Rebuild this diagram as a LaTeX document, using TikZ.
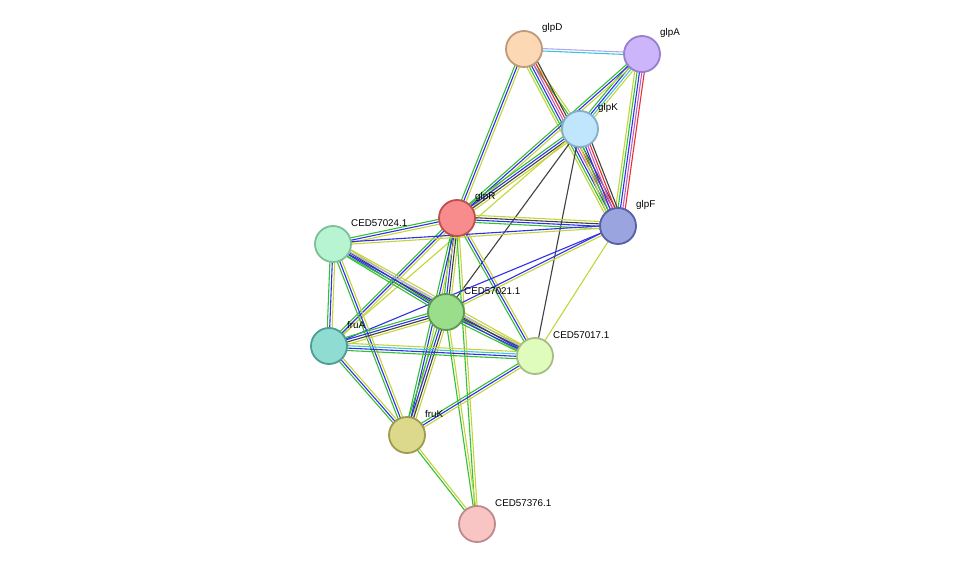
\documentclass[tikz,border=0pt]{standalone}
\usepackage{fontspec}
\setmainfont{Liberation Sans}
\usetikzlibrary{calc}
\definecolor{G}{HTML}{33C033}
\definecolor{B}{HTML}{3030E8}
\definecolor{Y}{HTML}{C4D43A}
\definecolor{K}{HTML}{404040}
\definecolor{R}{HTML}{E83030}
\definecolor{P}{HTML}{C060C8}
\definecolor{C}{HTML}{40C4DC}
\definecolor{L}{HTML}{B0A8F0}
\newcommand\edg[3]{%
  \foreach \c [count=\n] in {#3} {\xdef\ncount{\n}}%
  \foreach \c [count=\i] in {#3} {%
    \pgfmathsetmacro\off{(\i-(\ncount+1)/2)*2.4}%
    \draw[line width=1.1pt,color=\c] ($(#1)!\off pt!90:(#2)$) -- ($(#2)!\off pt!-90:(#1)$);
  }}
\begin{document}
\begin{tikzpicture}[x=1pt,y=-1pt,
  prot/.style={circle,minimum size=36pt,inner sep=0pt,line width=1.8pt},
  lab/.style={font=\fontsize{9.8}{11}\selectfont,anchor=west,inner sep=0pt}]
\useasboundingbox (0,0) rectangle (975,570);
\coordinate (glpD) at (524,49);
\coordinate (glpA) at (642,54);
\coordinate (glpK) at (580,129);
\coordinate (glpR) at (457,218);
\coordinate (glpF) at (618,226);
\coordinate (c24) at (333,244);
\coordinate (c21) at (446,312);
\coordinate (fruA) at (329,346);
\coordinate (c17) at (535,356);
\coordinate (fruK) at (407,435);
\coordinate (c376) at (477,524);
\edg{glpD}{glpA}{C,L}
\edg{glpD}{glpK}{G,Y}
\edg{glpD}{glpF}{Y,G,B,P,R,K}
\edg{glpD}{glpR}{G,B,Y}
\edg{glpA}{glpK}{G,B,C,Y}
\edg{glpA}{glpF}{Y,G,B,P,R}
\edg{glpA}{glpR}{G,B,Y}
\edg{glpK}{glpF}{Y,G,B,P,R,K}
\edg{glpK}{glpR}{G,B,K,Y}
\edg{glpK}{c21}{K}
\edg{glpK}{c17}{K}
\edg{glpK}{fruA}{Y}
\edg{glpR}{glpF}{G,B,K,Y}
\edg{glpR}{c24}{G,B,Y}
\edg{glpR}{c21}{G,B,K,Y}
\edg{glpR}{fruA}{G,B,Y}
\edg{glpR}{c17}{G,B,Y}
\edg{glpR}{fruK}{G,B,Y}
\edg{glpR}{c376}{G,Y}
\edg{glpF}{c24}{B,Y}
\edg{glpF}{c21}{B,Y}
\edg{glpF}{fruA}{B}
\edg{glpF}{c17}{Y}
\edg{c24}{c21}{G,B,K,Y}
\edg{c24}{fruA}{G,B,Y}
\edg{c24}{c17}{G,B,L,Y}
\edg{c24}{fruK}{G,B,Y}
\edg{c21}{fruA}{G,B,K,Y}
\edg{c21}{c17}{G,B,K,Y}
\edg{c21}{fruK}{G,B,K,Y}
\edg{c21}{c376}{G,Y}
\edg{fruA}{c17}{G,B,C,Y}
\edg{fruA}{fruK}{G,B,Y}
\edg{c17}{fruK}{G,B,Y}
\edg{fruK}{c376}{G,Y}
\foreach \p/\f/\d/\t in {glpD/FCD9B4/C0987A/glpD, glpA/CDB5FC/9680CC/glpA, glpK/BFE6FC/84AECA/glpK,
  glpR/F88C8C/C04E4E/glpR, glpF/9AA4DE/585FA6/glpF, c24/B7F5D2/7EBE98/CED57024.1,
  c21/9ADE8C/5A9A50/CED57021.1, fruA/8EDCD2/4E9C94/fruA, c17/E0FCBC/A6BE86/CED57017.1,
  fruK/DCD88C/9E9A4E/fruK, c376/F8C4C4/BE8A8A/CED57376.1} {
  \definecolor{fc}{HTML}{\f}\definecolor{dc}{HTML}{\d}
  \node[prot,fill=fc,draw=dc] (n\p) at (\p) {};
  \node[lab] (l\p) at ($(\p)+(18,-21)$) {\t};
}
\end{tikzpicture}
\end{document}
